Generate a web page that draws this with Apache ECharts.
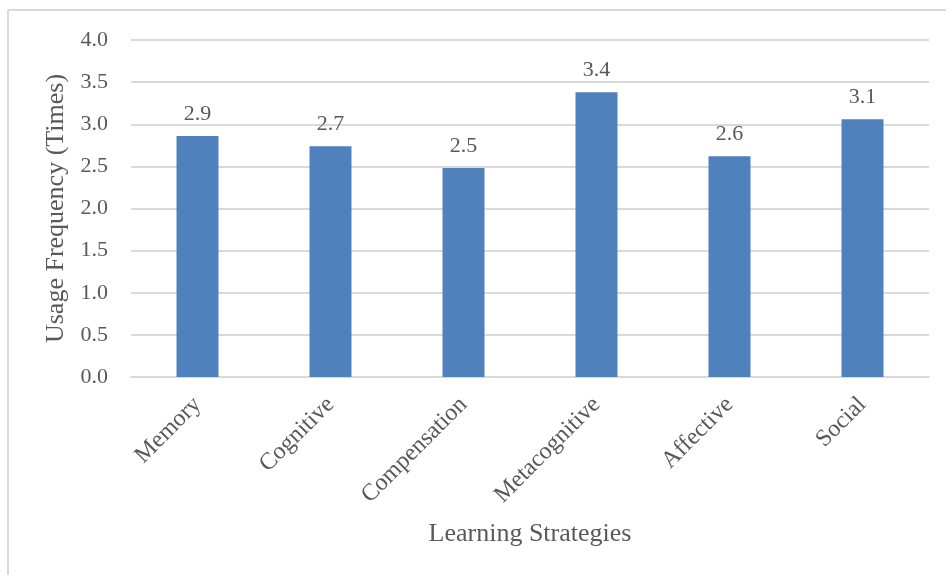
<!DOCTYPE html>
<html>
<head>
<meta charset="utf-8">
<script src="https://cdn.jsdelivr.net/npm/echarts@6/dist/echarts.min.js"></script>
<style>
html,body{margin:0;padding:0;background:#fff;}
#chart{width:946px;height:575px;}
</style>
</head>
<body>
<div id="chart"></div>
<script>
const categories = ['Memory', 'Cognitive', 'Compensation', 'Metacognitive', 'Affective', 'Social'];
const usageValues = [2.86, 2.74, 2.48, 3.38, 2.62, 3.06];
const yTicks = { min: 0, max: 4, interval: 0.5 };
const xTitle = 'Learning Strategies';
const yTitle = 'Usage Frequency (Times)';

const font = '"Liberation Serif", "Times New Roman", serif';
const textColor = '#595959';
const chart = echarts.init(document.getElementById('chart'), null, { renderer: 'canvas' });
chart.setOption({
  animation: false,
  backgroundColor: '#fff',
  graphic: [
    { type: 'line', shape: { x1: 8, y1: 10, x2: 946, y2: 10 }, style: { stroke: '#D9D9D9', lineWidth: 2 } },
    { type: 'line', shape: { x1: 8, y1: 10, x2: 8, y2: 575 }, style: { stroke: '#D9D9D9', lineWidth: 2 } }
  ],
  grid: { left: 131, right: 17, top: 40, bottom: 198, containLabel: false },
  xAxis: {
    type: 'category',
    data: categories,
    axisLine: { show: true, lineStyle: { color: '#D9D9D9', width: 2 } },
    axisTick: { show: false },
    axisLabel: { rotate: 45, margin: 24, color: textColor, fontFamily: font, fontSize: 24 },
    name: xTitle,
    nameLocation: 'middle',
    nameGap: 144,
    nameTextStyle: { color: textColor, fontFamily: font, fontSize: 26 }
  },
  yAxis: {
    type: 'value',
    min: yTicks.min,
    max: yTicks.max,
    interval: yTicks.interval,
    axisLine: { show: false },
    axisTick: { show: false },
    splitLine: { lineStyle: { color: '#D9D9D9', width: 2 } },
    axisLabel: { margin: 23, color: textColor, fontFamily: font, fontSize: 22, formatter: v => v.toFixed(1) },
    name: yTitle,
    nameLocation: 'middle',
    nameGap: 58,
    nameRotate: 90,
    nameTextStyle: { color: textColor, fontFamily: font, fontSize: 26 }
  },
  series: [{
    type: 'bar',
    data: usageValues,
    barWidth: 42,
    itemStyle: { color: '#4F81BD' },
    label: {
      show: true,
      position: 'top',
      distance: 11,
      color: textColor,
      fontFamily: font,
      fontSize: 22,
      formatter: p => p.value.toFixed(1)
    }
  }]
});
</script>
</body>
</html>
